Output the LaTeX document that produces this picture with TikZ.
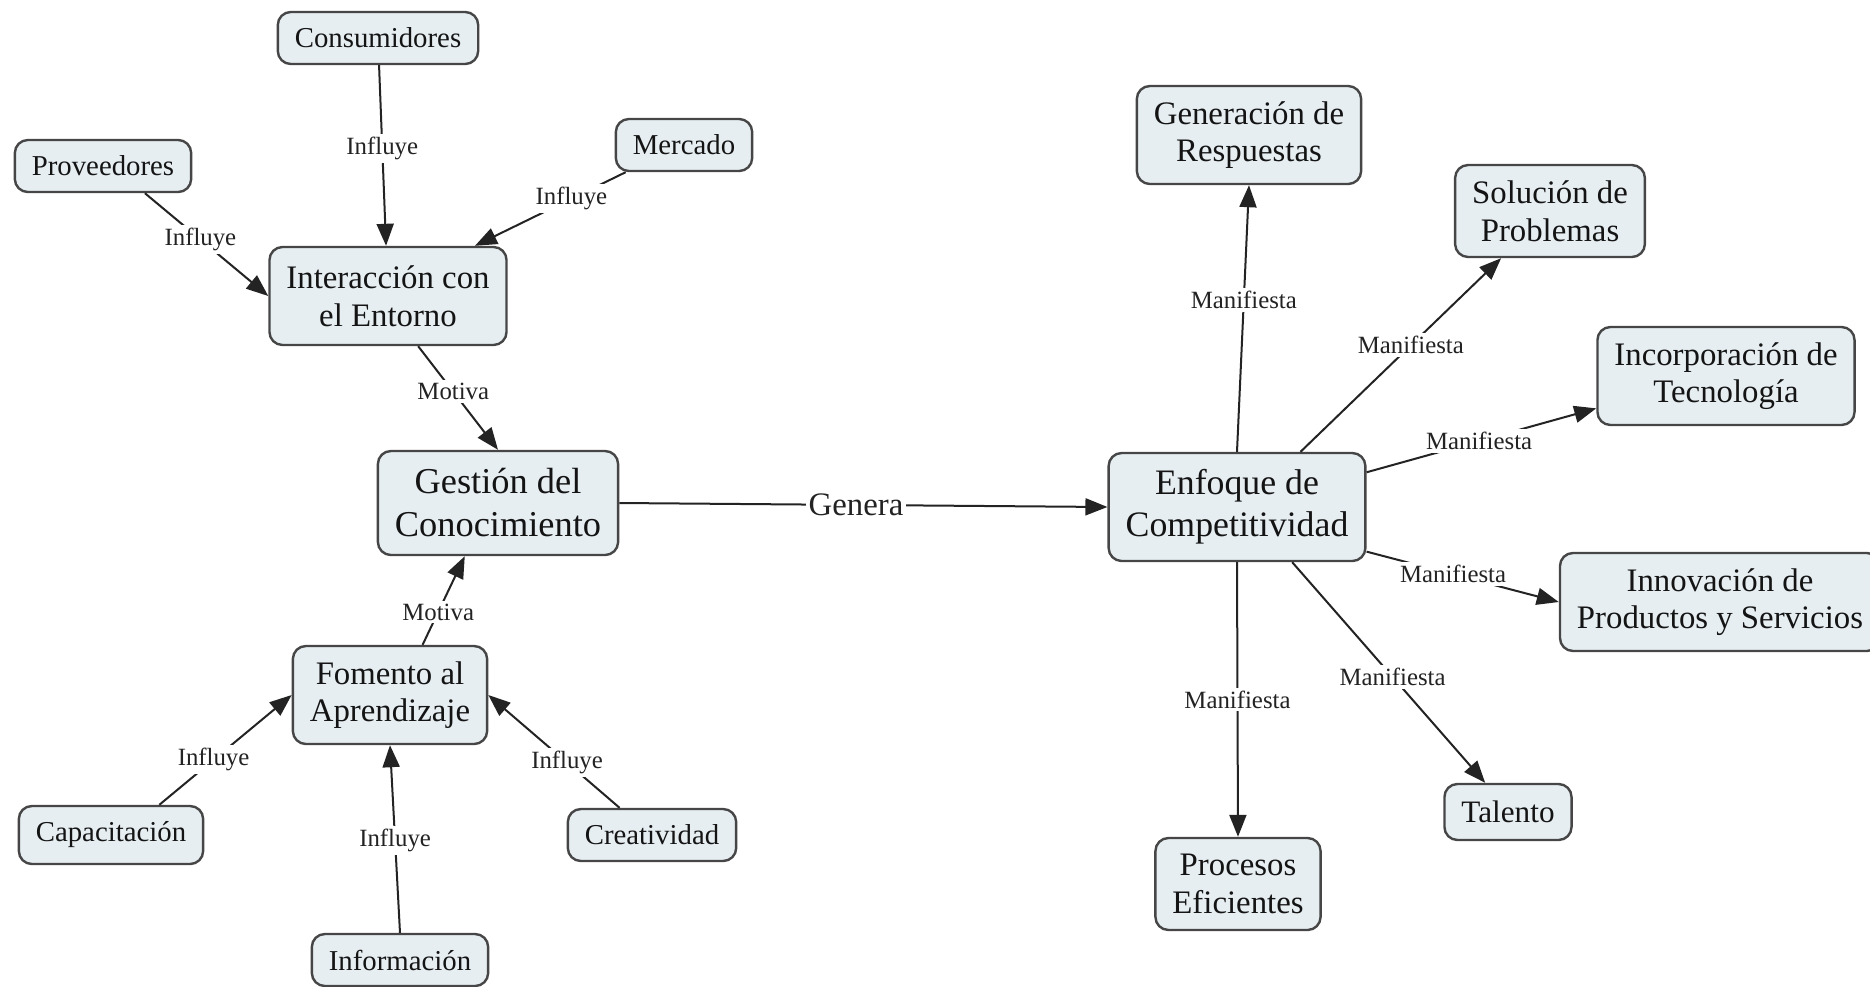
\documentclass[tikz,border=0pt]{standalone}
\usepackage{fontspec}
\setmainfont{Liberation Serif}
\usepackage{xcolor}
\usetikzlibrary{arrows.meta}

\definecolor{boxfill}{RGB}{230,238,242}
\definecolor{boxline}{RGB}{70,70,70}
\definecolor{linkline}{RGB}{35,35,35}
\definecolor{linktext}{RGB}{35,35,35}

\tikzset{
  concept/.style={draw=boxline, line width=1.2pt, fill=boxfill, rounded corners=6.5pt, align=center, inner xsep=8.5pt, inner ysep=4pt, text=black!92},
  leafbox/.style={concept, font=\fontsize{14.4pt}{17pt}\selectfont, minimum height=26pt},
  midbox/.style={concept, font=\fontsize{16.4pt}{18.8pt}\selectfont, minimum height=49pt},
  mainbox/.style={concept, font=\fontsize{18.2pt}{21.5pt}\selectfont, minimum height=52pt},
  link/.style={draw=linkline, line width=1pt, -{Triangle[length=11pt,width=8.5pt]}},
  linklabel/.style={fill=white, inner sep=1.5pt, text=linktext, font=\fontsize{12.4pt}{14pt}\selectfont},
  genlabel/.style={linklabel, font=\fontsize{16.4pt}{18pt}\selectfont}
}

\begin{document}
\begin{tikzpicture}[x=0.5pt,y=0.5pt,yscale=-1,xscale=1]
\useasboundingbox (0,0) rectangle (1870,986);

% Text Node
\node[leafbox] (cons) at (378,38) {Consumidores};
% Text Node
\node[leafbox] (prov) at (103,166) {Proveedores};
% Text Node
\node[leafbox] (merc) at (684,145) {Mercado};
% Text Node
\node[midbox] (inter) at (388,296) {Interacción con\\el Entorno};
% Text Node
\node[mainbox] (gest) at (498,503) {Gestión del\\Conocimiento};
% Text Node
\node[midbox] (fom) at (390,695) {Fomento al\\Aprendizaje};
% Text Node
\node[leafbox, minimum height=29pt] (capa) at (111,835) {Capacitación};
% Text Node
\node[leafbox] (info) at (400,960) {Información};
% Text Node
\node[leafbox] (crea) at (652,835) {Creatividad};
% Text Node
\node[mainbox, font=\fontsize{17.9pt}{21pt}\selectfont, minimum height=54pt] (enf) at (1237,507) {Enfoque de\\Competitividad};
% Text Node
\node[midbox] (gen) at (1249,135) {Generación de\\Respuestas};
% Text Node
\node[midbox, minimum height=46pt] (sol) at (1550,211) {Solución de\\Problemas};
% Text Node
\node[midbox] (inc) at (1726,376) {Incorporación de\\Tecnología};
% Text Node
\node[midbox] (innov) at (1720,602) {Innovación de\\Productos y Servicios};
% Text Node
\node[leafbox, font=\fontsize{15.6pt}{18pt}\selectfont, minimum height=28pt] (tal) at (1508,812) {Talento};
% Text Node
\node[midbox, minimum height=46pt] (proc) at (1238,884) {Procesos\\Eficientes};

%Straight Lines
\draw[link] (cons) -- node[linklabel, pos=0.46] {Influye} (inter);
\draw[link] (prov.-33) -- node[linklabel, pos=0.45] {Influye} (inter.west);
\draw[link] (merc.205) -- node[linklabel, pos=0.36] {Influye} (inter.30);
\draw[link] (inter.-59) -- node[linklabel, pos=0.44] {Motiva} (gest.north);
\draw[link] (fom.57) -- node[linklabel, pos=0.37] {Motiva} (gest.238);
\draw[link] (capa.32) -- node[linklabel, pos=0.41] {Influye} (fom.west);
\draw[link] (info.north) -- node[linklabel, pos=0.49] {Influye} (fom.south);
\draw[link] (crea.140) -- node[linklabel, pos=0.4] {Influye} (fom.east);
%Straight Lines
\draw[link] (gest.east) -- node[genlabel, pos=0.485] {Genera} (enf.west);
%Straight Lines
\draw[link] (enf.north) -- node[linklabel, pos=0.57] {Manifiesta} (gen.south);
\draw[link] (enf.41) -- node[linklabel, pos=0.55] {Manifiesta} (sol.224);
\draw[link] (enf.15) -- node[linklabel, pos=0.49] {Manifiesta} (inc.194);
\draw[link] (enf.-19) -- node[linklabel, pos=0.45] {Manifiesta} (innov.west);
\draw[link] (enf.-45) -- node[linklabel, pos=0.52] {Manifiesta} (tal.128);
\draw[link] (enf.south) -- node[linklabel, pos=0.5] {Manifiesta} (proc.north);

\end{tikzpicture}
\end{document}
